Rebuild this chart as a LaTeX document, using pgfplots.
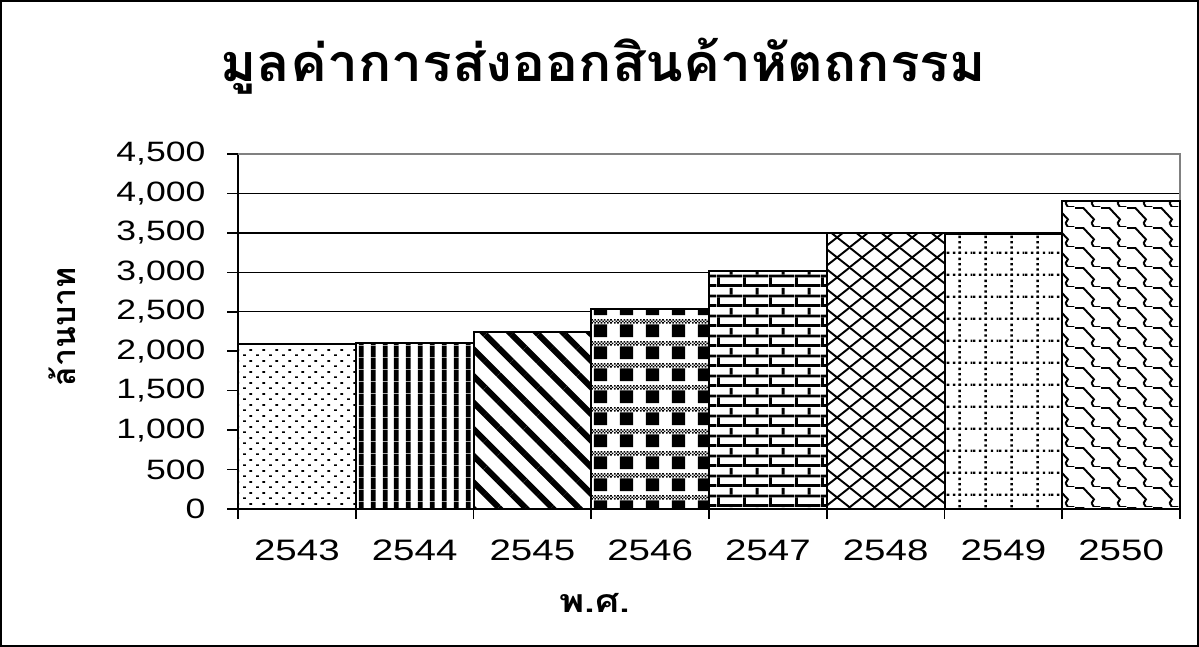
\documentclass[border=0pt]{standalone}
\usepackage{fontspec}
\setmainfont{Liberation Sans}[FakeStretch=1.27]
\newfontfamily\xtickfont{Liberation Sans}[FakeStretch=1.3]
\newfontfamily\thaifont{Loma}[Script=Thai,FakeStretch=1.06]
\newfontfamily\thaifontX{Loma}[Script=Thai,FakeStretch=1.2]
\newfontfamily\thaifontN{Loma}[Script=Thai]
\usepackage{pgfplots}
\pgfplotsset{compat=1.18}
\usetikzlibrary{patterns.meta}

\tikzdeclarepattern{name=pdots,type=uncolored,
  bottom left={(0pt,0pt)},top right={(6.4pt,5.3pt)},tile size={(6.4pt,5.3pt)},
  code={\fill (0pt,0pt) rectangle (1.4pt,0.9pt);
        \fill (3.2pt,2.65pt) rectangle (4.6pt,3.55pt);}}
\tikzdeclarepattern{name=pcheck,type=uncolored,
  bottom left={(0pt,0pt)},top right={(12.8pt,11pt)},tile size={(12.8pt,11pt)},
  code={\fill (3pt,1pt) rectangle (9.6pt,7.6pt);
        \foreach \i in {0,1,...,7}{
          \fill (1.6pt*\i,8pt) rectangle ++(0.8pt,0.8pt);
          \fill (1.6pt*\i+0.8pt,8.8pt) rectangle ++(0.8pt,0.8pt);
          \fill (1.6pt*\i,9.6pt) rectangle ++(0.8pt,0.8pt);}}}
\tikzdeclarepattern{name=pbricks,type=uncolored,
  bottom left={(0pt,0pt)},top right={(12.8pt,10pt)},tile size={(12.8pt,10pt)},
  code={\fill (0pt,0pt) rectangle (12.8pt,1.5pt);
        \fill (0pt,5pt) rectangle (12.8pt,6.5pt);
        \fill (0pt,1.5pt) rectangle (1.5pt,5pt);
        \fill (6.4pt,6.5pt) rectangle (7.9pt,10pt);}}
\tikzdeclarepattern{name=pdiamond,type=uncolored,
  bottom left={(0pt,0pt)},top right={(12.5pt,10pt)},tile size={(12.5pt,10pt)},
  code={\draw[line width=1pt] (-1.25pt,-1pt) -- (13.75pt,11pt);
        \draw[line width=1pt] (-1.25pt,11pt) -- (13.75pt,-1pt);}}
\tikzdeclarepattern{name=pdotgrid,type=uncolored,
  bottom left={(0pt,0pt)},top right={(12.8pt,10.8pt)},tile size={(12.8pt,10.8pt)},
  code={\draw[line width=1.2pt,dash pattern=on 1.2pt off 1.8pt] (0pt,0.6pt) -- (12.8pt,0.6pt);
        \draw[line width=1.2pt,dash pattern=on 1.2pt off 1.5pt] (6.4pt,0pt) -- (6.4pt,10.8pt);}}
\tikzdeclarepattern{name=pscales,type=uncolored,
  bottom left={(0pt,0pt)},top right={(12.8pt,10pt)},tile size={(12.8pt,10pt)},
  code={\draw[line width=1pt] (0pt,10pt) -- (4.2pt,10pt) -- (9.6pt,4pt) -- (8.4pt,2pt);
        \draw[line width=1pt] (8.4pt,2pt) -- (9.6pt,0pt) -- (12.8pt,0pt);}}

\pgfplotsset{/pgf/number format/assume math mode=true}

\begin{document}
\begin{tikzpicture}
\useasboundingbox (0pt,0pt) rectangle (599.5pt,-323.5pt);
\draw[line width=1.2pt] (0.6pt,-0.6pt) rectangle (598.9pt,-322.9pt);
\begin{axis}[
  at={(119pt,-254.5pt)}, anchor=south west,
  scale only axis, width=471pt, height=177.5pt,
  xmin=-0.5, xmax=7.5, ymin=0, ymax=4500,
  ytick={0,500,...,4500},
  xtick={0,1,2,3,4,5,6,7},
  xticklabels={2543,2544,2545,2546,2547,2548,2549,2550},
  minor xtick={-0.5,0.5,1.5,2.5,3.5,4.5,5.5,6.5,7.5},
  major x tick style={draw=none},
  tick align=outside,
  major tick length=5.5pt,
  minor tick length=5pt,
  axis x line*=bottom, axis y line*=left,
  axis line style={line width=1pt, -},
  ymajorgrids, grid style={black, line width=0.7pt},
  tick style={black, line width=0.8pt},
  yticklabel style={font=\fontsize{14}{16}\selectfont, xshift=-7.3pt, /pgf/number format/1000 sep={,}},
  xticklabel style={font=\xtickfont\fontsize{14.8}{17}\selectfont, yshift=-6.5pt},
  clip=false,
]
\draw[gray, line width=0.8pt] (rel axis cs:0,1) -- (rel axis cs:1,1) -- (rel axis cs:1,0);
\addplot[ybar, bar width=1, bar shift=0pt, draw=black, line width=1pt, preaction={fill=white}, pattern=pdots] coordinates {(0,2092)};
\addplot[ybar, bar width=1, bar shift=0pt, draw=black, line width=1pt, preaction={fill=white}, pattern={Lines[angle=90,distance=5.85pt,line width=2.5pt]}] coordinates {(1,2105)};
\addplot[ybar, bar width=1, bar shift=0pt, draw=black, line width=1pt, preaction={fill=white}, pattern={Lines[angle=-45,distance=9.4pt,line width=3pt]}] coordinates {(2,2244)};
\addplot[ybar, bar width=1, bar shift=0pt, draw=black, line width=1pt, preaction={fill=white}, pattern=pcheck] coordinates {(3,2540)};
\addplot[ybar, bar width=1, bar shift=0pt, draw=black, line width=1pt, preaction={fill=white}, pattern=pbricks] coordinates {(4,3022)};
\addplot[ybar, bar width=1, bar shift=0pt, draw=black, line width=1pt, preaction={fill=white}, pattern=pdiamond] coordinates {(5,3500)};
\addplot[ybar, bar width=1, bar shift=0pt, draw=black, line width=1pt, preaction={fill=white}, pattern=pdotgrid] coordinates {(6,3480)};
\addplot[ybar, bar width=1, bar shift=0pt, draw=black, line width=1pt, preaction={fill=white}, pattern=pscales] coordinates {(7,3903)};
\end{axis}
\node[font=\thaifont\bfseries\fontsize{26}{30}\selectfont] at (301.5pt,-33pt) {มูลค่าการส่งออกสินค้าหัตถกรรม};
\node[font=\thaifontX\bfseries\fontsize{16}{20}\selectfont] at (297.5pt,-301.5pt) {พ.ศ.};
\node[font=\thaifontN\bfseries\fontsize{16}{20}\selectfont, rotate=90] at (31pt,-163.5pt) {ล้านบาท};
\end{tikzpicture}
\end{document}
